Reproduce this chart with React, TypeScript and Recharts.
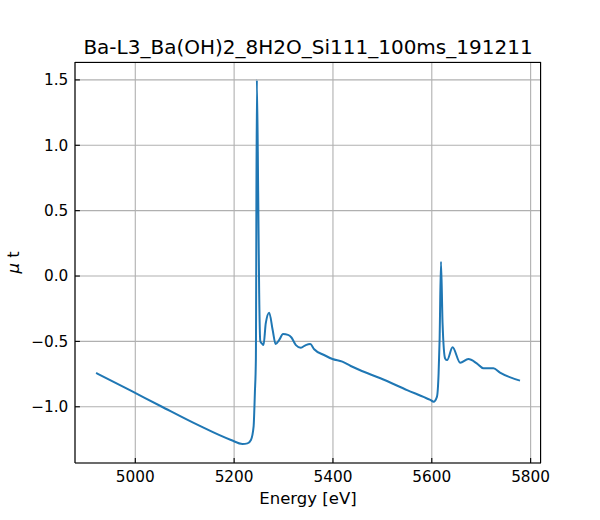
import {
  LineChart, Line, XAxis, YAxis, CartesianGrid,
} from 'recharts'

// ── data ──────────────────────────────────────────────────────────────────────

const energy = [
  4920.7, 4992, 5052, 5126.5, 5193.6, 5217, 5227, 5234, 5239.4, 5242, 5244,
  5246, 5248.7, 5250.7, 5253, 5256, 5259.5, 5264, 5271, 5278, 5284, 5291,
  5299, 5309, 5316, 5325, 5335, 5345, 5354, 5362, 5382, 5399, 5419, 5436,
  5454, 5496, 5550, 5597, 5603.7, 5610.5, 5613.8, 5615.8, 5618.6, 5621.8,
  5627, 5631, 5642, 5657.5, 5674, 5691, 5704.5, 5724.7, 5738, 5778.5,
]

const mu = [
  -0.741, -0.879, -0.996, -1.139, -1.254, -1.284, -1.28, -1.254, -1.152, -0.894, -0.642,
  1.498, 0.632, -0.13, -0.5, -0.515, -0.528, -0.362, -0.28, -0.413, -0.52, -0.49,
  -0.444, -0.45, -0.47, -0.528, -0.548, -0.528, -0.52, -0.56, -0.604, -0.635, -0.655, -0.688,
  -0.719, -0.782, -0.872, -0.948, -0.961, -0.922, -0.744, -0.49, 0.109, -0.362,
  -0.63, -0.643, -0.545, -0.663, -0.635, -0.668, -0.706, -0.706, -0.739, -0.8,
]

const xTicks = [5000, 5200, 5400, 5600, 5800]
const yTicks = [-1.0, -0.5, 0.0, 0.5, 1.0, 1.5]

const title = 'Ba-L3_Ba(OH)2_8H2O_Si111_100ms_191211'

// ── styling ───────────────────────────────────────────────────────────────────

const FONT = '"DejaVu Sans", sans-serif'
const X_DOMAIN = [4878, 5821]
const Y_DOMAIN = [-1.43, 1.637]

const data = energy.map((e, i) => ({ e, mu: mu[i] }))

const fmtY = (v: number) => v.toFixed(1).replace('-', '\u2212')

// axis labels drawn relative to each axis' viewBox
function XLabel({ viewBox }: any) {
  const { x, y, width } = viewBox
  return (
    <text x={x + width / 2} y={y + 41} textAnchor="middle" fontSize={16.5} fontFamily={FONT} fill="#000">
      Energy [eV]
    </text>
  )
}

function YLabel({ viewBox }: any) {
  const { y, height } = viewBox
  const cx = 18.5
  const cy = y + height / 2
  return (
    <text x={cx} y={cy} transform={`rotate(-90, ${cx}, ${cy})`} textAnchor="middle" fontSize={16.5} fontFamily={FONT} fill="#000">
      <tspan fontStyle="italic">μ</tspan> t
    </text>
  )
}

const tickStyle = { fill: '#000', fontSize: 15.3, fontFamily: FONT }
const spine = { stroke: '#000', strokeWidth: 1.1 }

export default function App() {
  return (
    <div style={{ position: 'absolute', left: 0, top: 0, width: 600, height: 520, background: '#fff' }}>
      <div
        style={{
          position: 'absolute', left: 75, top: 35, width: 466, textAlign: 'center',
          fontFamily: FONT, fontSize: 20, lineHeight: '24px', color: '#000', whiteSpace: 'nowrap',
        }}
      >
        {title}
      </div>
      <LineChart
        width={600}
        height={520}
        data={data}
        margin={{ top: 62, right: 59, left: 0, bottom: 0 }}
      >
        <CartesianGrid stroke="#b0b0b0" strokeWidth={1.1} />
        <XAxis
          dataKey="e"
          type="number"
          domain={X_DOMAIN}
          ticks={xTicks}
          allowDataOverflow
          height={57}
          tick={tickStyle}
          tickSize={-4.9}
          tickMargin={12.7}
          tickLine={spine}
          axisLine={spine}
          label={XLabel}
        />
        <YAxis
          type="number"
          domain={Y_DOMAIN}
          ticks={yTicks}
          allowDataOverflow
          width={75}
          tick={tickStyle}
          tickFormatter={fmtY}
          tickSize={-4.9}
          tickMargin={11.6}
          tickLine={spine}
          axisLine={spine}
          label={YLabel}
        />
        <Line
          type="monotone"
          dataKey="mu"
          stroke="#1f77b4"
          strokeWidth={2}
          dot={false}
          isAnimationActive={false}
        />
      </LineChart>
      {/* top and right spines */}
      <div
        style={{
          position: 'absolute', left: 75, top: 62, width: 466, height: 401,
          borderTop: '1.1px solid #000', borderRight: '1.1px solid #000',
          boxSizing: 'border-box', pointerEvents: 'none',
        }}
      />
    </div>
  )
}
